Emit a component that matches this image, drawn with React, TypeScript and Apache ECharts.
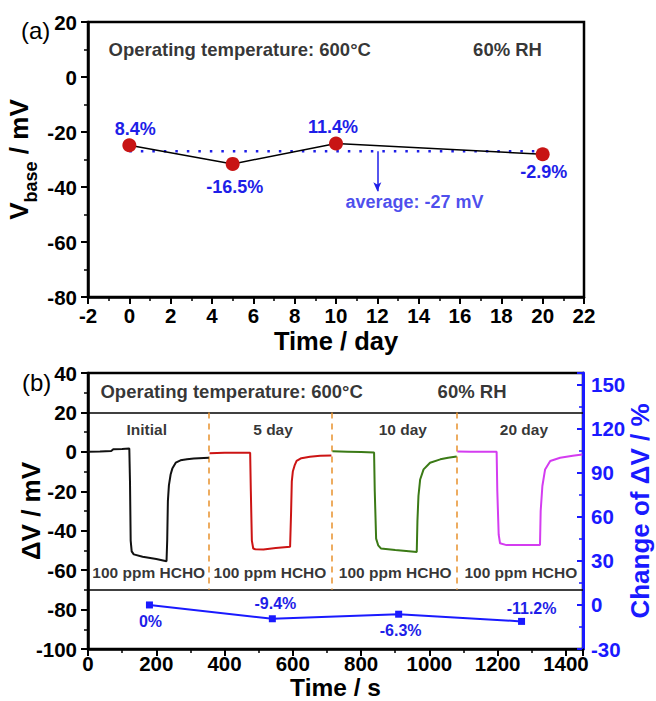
import React, { useEffect, useRef } from "react";
import * as echarts from "echarts";

const FONT = "'Liberation Sans', Arial, Helvetica, sans-serif";
const BLUE = "#1e1ee8";
const AXIS_BLUE = "#1a1aff";

// ---- Panel (a) data ----
const dayX = [0, 5, 10, 20];
const vBase = [-24.8, -31.6, -24.2, -28.1];
const vBasePct = ["8.4%", "-16.5%", "11.4%", "-2.9%"];
const vBasePctOffset = [[6, -16], [2, 23], [-3, -17], [1, 18]];
const vBaseAvg = -27;
const avgSpan = [0, 20];
const arrowDay = 12;
const arrowEnd = -41.5;

// ---- Panel (b) data ----
const initialCurve = [[0, 0], [35, 0.2], [68, 0.4], [74, 1.3], [100, 1.5], [121, 1.7], [123, -15], [125, -45], [128, -50.5], [134, -52], [160, -53.2], [200, -54.3], [230, -55.5], [232, -45], [234, -25], [237, -17], [242, -11.5], [247, -8.5], [257, -5.5], [271, -4.3], [290, -3.8], [310, -3.4], [354, -3.0]];
const day5Curve = [[356, -0.7], [400, -0.5], [450, -0.4], [475, -0.4], [477, -20], [480, -45], [484, -49], [490, -49.4], [514, -49.5], [550, -48.8], [592, -48.1], [595, -30], [597, -15], [600, -10], [605, -7], [611, -4.6], [625, -3.2], [650, -2.5], [680, -2], [713, -1.8]];
const day10Curve = [[716, 0.3], [760, 0.1], [800, -0.1], [838, -0.3], [840, -20], [844, -44], [850, -47.4], [858, -49], [900, -49.8], [940, -50.4], [963, -50.8], [965, -35], [968, -22.4], [973, -14], [983, -8.9], [1002, -5.5], [1032, -3.8], [1055, -3], [1080, -2.4]];
const day20Curve = [[1082, 0.2], [1120, 0.1], [1160, 0], [1197, 0], [1199, -20], [1203, -42], [1207, -46.4], [1226, -47.3], [1280, -47.3], [1324, -47.2], [1326, -30], [1331, -17.3], [1339, -8.9], [1354, -4.6], [1383, -3], [1420, -2], [1448, -1.4]];
const curveColors = ["#111111", "#cc1414", "#3b7a16", "#d43cf0"];
const segmentNames = ["Initial", "5 day", "10 day", "20 day"];
const segmentNameX = [172, 542, 922, 1277];
const segmentNameY = 11.4;
const gasLabel = "100 ppm HCHO";
const gasLabelX = [178, 533, 900, 1268];
const gasLabelY = -61;
const dividerX = [355, 715, 1080];
const bandLines = [20, -70];

const changeX = [180, 540, 910, 1270];
const changePct = [0, -9.4, -6.3, -11.2];
const changeLabels = ["0%", "-9.4%", "-6.3%", "-11.2%"];
const changeLabelOffset = [[1, 17], [3, -15], [2, 16], [10, -13]];

const condText = "Operating temperature: 600°C";
const rhText = "60% RH";

const plainNum = (v: number) => String(v);

const tickLabel = (extra: any) => ({
  color: "#000", fontSize: 20.5, lineHeight: 20, fontWeight: "bold", fontFamily: FONT, margin: 11, formatter: plainNum, ...extra,
});

const blackAxis = (extra: any) => ({
  type: "value",
  nameMoveOverlap: false,
  splitLine: { show: false },
  axisLine: { show: true, onZero: false, lineStyle: { color: "#000", width: 2.5 } },
  axisTick: { show: true, inside: false, length: 7, lineStyle: { color: "#000", width: 2 } },
  minorTick: { show: true, splitNumber: 2, length: 4, lineStyle: { color: "#000", width: 1.5 } },
  axisLabel: tickLabel({}),
  nameTextStyle: { color: "#000", fontSize: 26, lineHeight: 26, fontWeight: "bold", fontFamily: FONT },
  ...extra,
});

const textSeries = (xi: number, yi: number, items: any[]) => ({
  type: "scatter",
  xAxisIndex: xi,
  yAxisIndex: yi,
  symbolSize: 1,
  silent: true,
  itemStyle: { color: "rgba(0,0,0,0)" },
  z: 20,
  data: items.map((it) => ({
    value: [it.x, it.y],
    label: {
      show: true,
      formatter: it.text,
      position: it.left ? "right" : "inside",
      distance: 0,
      color: it.color || "#000",
      fontSize: it.size || 18.5,
      fontWeight: "bold",
      fontFamily: FONT,
    },
  })),
});

export default function App() {
  const ref = useRef<HTMLDivElement>(null);
  useEffect(() => {
    document.body.style.margin = "0";
    const chart = echarts.init(ref.current!, null, { renderer: "svg" });
    const option: any = {
      animation: false,
      backgroundColor: "#fff",
      textStyle: { fontFamily: FONT },
      grid: [
        { left: 88, top: 22, width: 496, height: 275, containLabel: false, outerBoundsMode: "none", show: true, borderColor: "#000", borderWidth: 2.5, backgroundColor: "transparent" },
        { left: 88, top: 373, width: 495, height: 276, containLabel: false, outerBoundsMode: "none", show: true, borderColor: "#000", borderWidth: 2.5, backgroundColor: "transparent" },
      ],
      xAxis: [
        blackAxis({
          gridIndex: 0, min: -2, max: 22, interval: 2, name: "Time / day", nameLocation: "middle", nameGap: 31,
          nameTextStyle: { color: "#000", fontSize: 25.5, lineHeight: 25, fontWeight: "bold", fontFamily: FONT },
          axisLabel: tickLabel({ margin: 8 }),
        }),
        blackAxis({
          gridIndex: 1, min: 0, max: 1450, interval: 200, name: "Time / s", nameLocation: "middle", nameGap: 27,
          nameTextStyle: { color: "#000", fontSize: 24.5, lineHeight: 22, fontWeight: "bold", fontFamily: FONT },
          axisLabel: tickLabel({ margin: 4, showMaxLabel: false }),
        }),
      ],
      yAxis: [
        blackAxis({
          gridIndex: 0, min: -80, max: 20, interval: 20,
          name: "{v|V}{s|base}{v| / mV}", nameLocation: "middle", nameGap: 48, nameRotate: 90,
          nameTextStyle: {
            rich: {
              v: { fontSize: 26, fontWeight: "bold", fontFamily: FONT, color: "#000", verticalAlign: "bottom", padding: [0, 0, 8, 0] },
              s: { fontSize: 18, fontWeight: "bold", fontFamily: FONT, color: "#000", verticalAlign: "bottom" },
            },
          },
        }),
        blackAxis({ gridIndex: 1, min: -100, max: 40, interval: 20, name: "ΔV / mV", nameLocation: "middle", nameGap: 44, nameRotate: 90 }),
        {
          type: "value", gridIndex: 1, position: "right", min: -30, max: 158, interval: 30,
          nameMoveOverlap: false,
          splitLine: { show: false },
          axisLine: { show: true, onZero: false, lineStyle: { color: AXIS_BLUE, width: 3 } },
          axisTick: { show: true, inside: true, length: 6, lineStyle: { color: AXIS_BLUE, width: 2 } },
          minorTick: { show: true, splitNumber: 2, length: 4, lineStyle: { color: AXIS_BLUE, width: 1.5 } },
          axisLabel: tickLabel({ color: AXIS_BLUE, margin: 8, showMaxLabel: false }),
          name: "Change of ΔV / %", nameLocation: "middle", nameGap: 44, nameRotate: 90,
          nameTextStyle: { color: AXIS_BLUE, fontSize: 26, lineHeight: 26, fontWeight: "bold", fontFamily: FONT },
        },
      ],
      graphic: [
        { type: "text", left: 21, top: 18, style: { text: "(a)", fontSize: 24, fontFamily: FONT, fill: "#000" } },
        { type: "text", left: 22, top: 370, style: { text: "(b)", fontSize: 24, fontFamily: FONT, fill: "#000" } },
      ],
      series: [
        // Panel (a)
        {
          type: "line", xAxisIndex: 0, yAxisIndex: 0, z: 5,
          data: [[avgSpan[0], vBaseAvg], [avgSpan[1], vBaseAvg]],
          symbol: "none",
          lineStyle: { color: BLUE, width: 2.5, type: [2.5, 9] },
          markLine: {
            silent: true, symbol: ["none", "arrow"], symbolSize: [6, 9],
            label: { show: false },
            lineStyle: { color: BLUE, width: 1.5, type: "solid" },
            data: [[{ coord: [arrowDay, vBaseAvg] }, { coord: [arrowDay, arrowEnd] }]],
          },
        },
        {
          type: "line", xAxisIndex: 0, yAxisIndex: 0, z: 10,
          data: dayX.map((d, i) => ({
            value: [d, vBase[i]],
            label: { show: true, position: "inside", formatter: vBasePct[i], offset: vBasePctOffset[i], color: BLUE, fontSize: 18, fontWeight: "bold", fontFamily: FONT },
          })),
          symbol: "circle", symbolSize: 14,
          itemStyle: { color: "#c81414", borderWidth: 0 },
          lineStyle: { color: "#000", width: 1.5 },
        },
        textSeries(0, 0, [
          { x: -1.03, y: 9.86, text: condText, left: true },
          { x: 18.3, y: 9.86, text: rhText },
          { x: 13.8, y: -45.6, text: "average: -27 mV", color: BLUE, size: 18 },
        ]),
        // Panel (b)
        ...[initialCurve, day5Curve, day10Curve, day20Curve].map((c, i) => ({
          type: "line", xAxisIndex: 1, yAxisIndex: 1, data: c, symbol: "none",
          lineStyle: { color: curveColors[i], width: 2 }, z: 6,
          ...(i === 0
            ? {
                markLine: {
                  silent: true, symbol: "none", label: { show: false },
                  lineStyle: { color: "#000", width: 1.5, type: "solid" },
                  data: bandLines.map((v) => ({ yAxis: v })),
                },
              }
            : {}),
          ...(i === 1
            ? {
                markLine: {
                  silent: true, symbol: "none", label: { show: false },
                  lineStyle: { color: "#e8912d", width: 1.5, type: [6, 5] },
                  data: dividerX.map((x) => [{ coord: [x, bandLines[0]] }, { coord: [x, bandLines[1]] }]),
                },
              }
            : {}),
        })),
        {
          type: "line", xAxisIndex: 1, yAxisIndex: 2, z: 10,
          data: changeX.map((x, i) => ({
            value: [x, changePct[i]],
            label: { show: true, position: "inside", formatter: changeLabels[i], offset: changeLabelOffset[i], color: BLUE, fontSize: 16, fontWeight: "bold", fontFamily: FONT },
          })),
          symbol: "rect", symbolSize: 7,
          itemStyle: { color: AXIS_BLUE },
          lineStyle: { color: AXIS_BLUE, width: 2 },
        },
        textSeries(1, 1, [
          { x: 35, y: 30.7, text: condText, left: true },
          { x: 1125, y: 30.7, text: rhText },
          ...segmentNames.map((n, i) => ({ x: segmentNameX[i], y: segmentNameY, text: n, size: 15.5 })),
          ...gasLabelX.map((x) => ({ x, y: gasLabelY, text: gasLabel, size: 15.5 })),
        ]),
      ],
    };
    chart.setOption(option);
    return () => chart.dispose();
  }, []);
  return <div ref={ref} style={{ width: 656, height: 701 }} />;
}
